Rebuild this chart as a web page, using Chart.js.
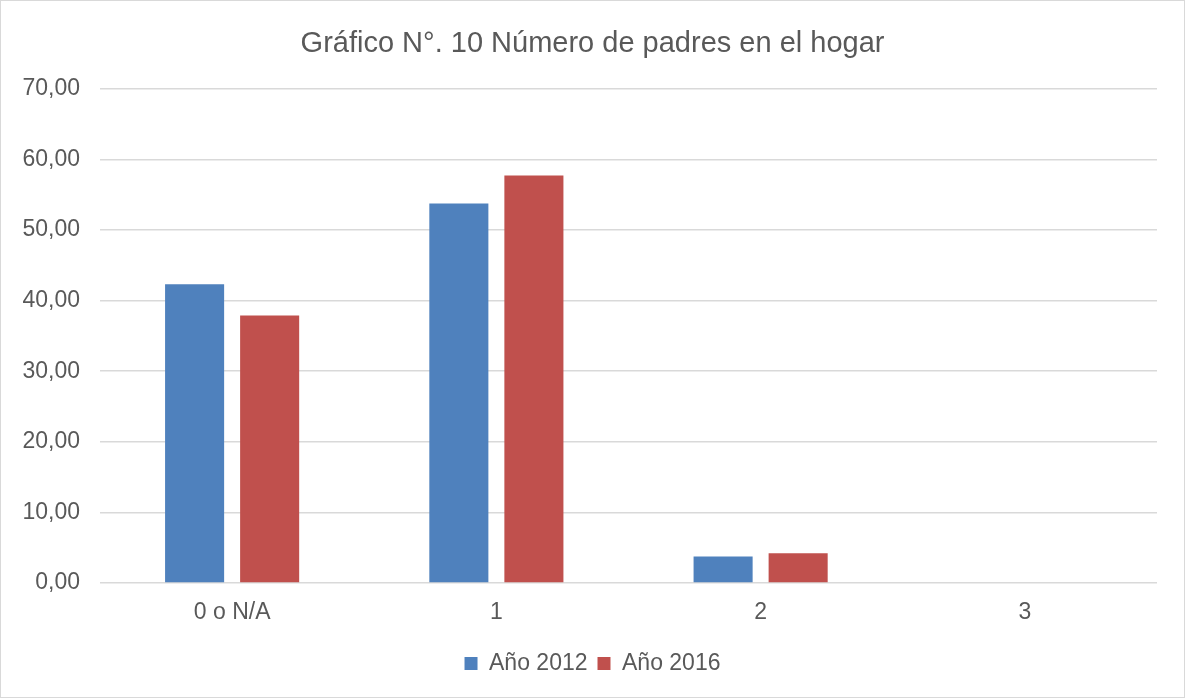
<!DOCTYPE html>
<html>
<head>
<meta charset="utf-8">
<script src="https://cdn.jsdelivr.net/npm/chart.js@4"></script>
<style>
  html, body { margin: 0; padding: 0; background: #fff; }
  #wrap { position: relative; width: 1185px; height: 698px; box-sizing: border-box; border: 1px solid #d9d9d9; }
  canvas { position: absolute; left: 0; top: 0; }
</style>
</head>
<body>
<div id="wrap"><canvas id="chart" width="1183" height="696"></canvas></div>
<script>
const categories = ["0 o N/A", "1", "2", "3"]
const values2012 = [42.33, 53.76, 3.75, 0]
const values2016 = [37.89, 57.73, 4.22, 0]
const seriesNames = ["Año 2012", "Año 2016"]

const textColor = "#595959"
const gridColor = "#d9d9d9"
const fontFamily = "'Liberation Sans', Arial, sans-serif"

const fmt = (v) => v.toFixed(2).replace(".", ",")

new Chart(document.getElementById("chart"), {
  type: "bar",
  data: {
    labels: categories,
    datasets: [
      { label: seriesNames[0], data: values2012, backgroundColor: "#4f81bd" },
      { label: seriesNames[1], data: values2016, backgroundColor: "#c0504d" },
    ],
  },
  options: {
    responsive: false,
    animation: false,
    layout: { padding: { left: 0, right: 0, top: 26, bottom: 12 } },
    datasets: { bar: { categoryPercentage: 0.568, barPercentage: 0.787 } },
    plugins: {
      title: {
        display: true,
        text: "Gráfico N°. 10 Número de padres en el hogar",
        color: textColor,
        font: { family: fontFamily, size: 29, weight: "normal" },
        padding: { top: 0, bottom: 27 },
      },
      legend: {
        position: "bottom",
        labels: {
          color: textColor,
          font: { family: fontFamily, size: 23 },
          boxWidth: 13,
          boxHeight: 13,
          padding: 10,
        },
      },
      tooltip: { enabled: false },
    },
    scales: {
      x: {
        afterFit: (s) => { s.height = 59 },
        grid: { display: false },
        border: { display: false },
        ticks: { color: textColor, font: { family: fontFamily, size: 23 }, padding: 8 },
      },
      y: {
        min: 0,
        max: 70,
        afterFit: (s) => { s.width = 99 },
        grid: { color: gridColor, lineWidth: 1.5, drawTicks: false },
        border: { display: false },
        ticks: {
          stepSize: 10,
          color: textColor,
          padding: 20,
          font: { family: fontFamily, size: 23 },
          callback: (v) => fmt(v),
        },
      },
      // empty right axis, only keeps a margin so title and legend stay centred on the page
      yRight: {
        position: "right",
        afterFit: (s) => { s.width = 27 },
        grid: { display: false },
        border: { display: false },
        ticks: { display: false },
      },
    },
  },
})
</script>
</body>
</html>
